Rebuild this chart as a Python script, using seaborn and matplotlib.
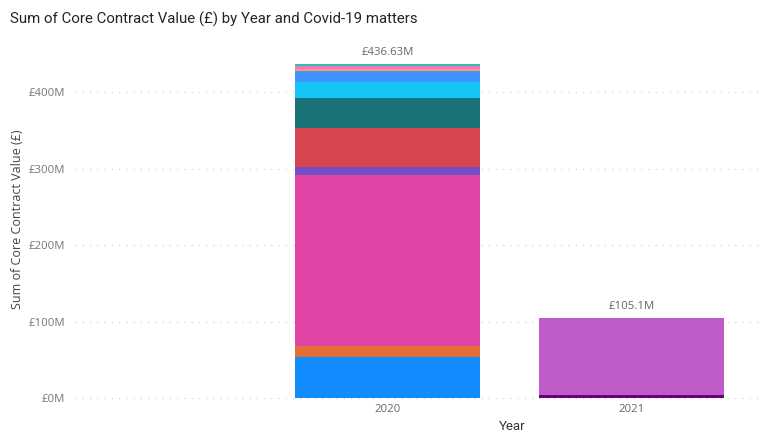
import matplotlib
matplotlib.use("Agg")
import matplotlib.pyplot as plt
import seaborn as sns
import pandas as pd
from matplotlib.ticker import FuncFormatter

# Core contract value (£M) per Covid-19 matter, listed bottom to top of each stack
matters_2020 = ["M01", "M03", "M05", "M06", "M07", "M08", "M09",
                "M11", "M12", "M13", "M15", "M16"]
values_2020 = [53.6, 14.4, 223.5, 10.0, 1.0, 50.0, 40.0,
               20.1, 14.8, 3.0, 3.5, 2.73]

matters_2021 = ["M04", "M14"]
values_2021 = [4.5, 100.6]

years = [2020, 2021]
year_labels = ["2020", "2021"]
y_ticks = [0, 100, 200, 300, 400]

matter_colors = {
    "M01": "#118DFF", "M03": "#E66C37", "M04": "#6B007B", "M05": "#E044A7",
    "M06": "#744EC2", "M07": "#D9702A", "M08": "#D64550", "M09": "#197278",
    "M11": "#15C6F4", "M12": "#4092FF", "M13": "#FFA058", "M14": "#BE5DC9",
    "M15": "#F472D0", "M16": "#2EC4A6",
}

df = pd.DataFrame({
    "Year": [2020] * len(matters_2020) + [2021] * len(matters_2021),
    "Matter": matters_2020 + matters_2021,
    "Value": values_2020 + values_2021,
})

# bottom-to-top stacking order across both years
stack_order = ["M01", "M03", "M04", "M05", "M06", "M07", "M08", "M09",
               "M11", "M12", "M13", "M14", "M15", "M16"]

sns.set_theme(style="white")
plt.rcParams["font.family"] = ["Open Sans", "DejaVu Sans"]

fig = plt.figure(figsize=(7.62, 4.32), dpi=100)
ax = fig.add_axes([75 / 762, 34 / 432, 683 / 762, 358 / 432])

# histplot stacks the last hue level at the bottom
sns.histplot(
    data=df, x="Year", weights="Value", hue="Matter",
    hue_order=stack_order[::-1], palette=matter_colors,
    multiple="stack", discrete=True, shrink=0.758,
    linewidth=0, alpha=1, legend=False, ax=ax,
)

ax.set_xlim(2020 - 1.281, 2020 + 1.518)
ax.set_ylim(0, 468)
ax.set_xticks(years)
ax.set_xticklabels(year_labels)
ax.set_yticks(y_ticks)
ax.yaxis.set_major_formatter(FuncFormatter(lambda v, p: f"£{v:.0f}M"))

for s in ax.spines.values():
    s.set_visible(False)
ax.set_axisbelow(True)
ax.yaxis.grid(True, color="#D2D2D2", linewidth=0.9, linestyle=(0, (1, 4.8)))
ax.xaxis.grid(False)
for gl in ax.yaxis.get_gridlines():
    gl.set_clip_on(False)
ax.tick_params(axis="y", length=0, pad=7, labelsize=8.2, labelcolor="#777777")
ax.tick_params(axis="x", length=0, pad=4.5, labelsize=8.2, labelcolor="#666666")

ax.set_ylabel("Sum of Core Contract Value (£)", fontsize=9, color="#444444",
              va="center")
ax.yaxis.set_label_coords((18 - 75) / 683, 0.5)
ax.set_xlabel("Year", fontsize=9.5, color="#333333", family=["Roboto", "DejaVu Sans"],
              va="center")
ax.xaxis.set_label_coords((512 - 75) / 683, (398 - 426) / 358)

# total labels above each stack
totals = [sum(values_2020), sum(values_2021)]
for yr, tot in zip(years, totals):
    txt = f"{tot:.2f}".rstrip("0").rstrip(".")
    ax.annotate(f"£{txt}M", xy=(yr, tot), xytext=(0, 4), textcoords="offset points",
                ha="center", va="bottom", fontsize=8.2, color="#666666")

fig.text(10 / 762, 1 - 19 / 432, "Sum of Core Contract Value (£) by Year and Covid-19 matters",
         ha="left", va="center", fontsize=10.8, color="#252423",
         family=["Roboto", "DejaVu Sans"])

fig.savefig("out.png", dpi=100, facecolor="white")
